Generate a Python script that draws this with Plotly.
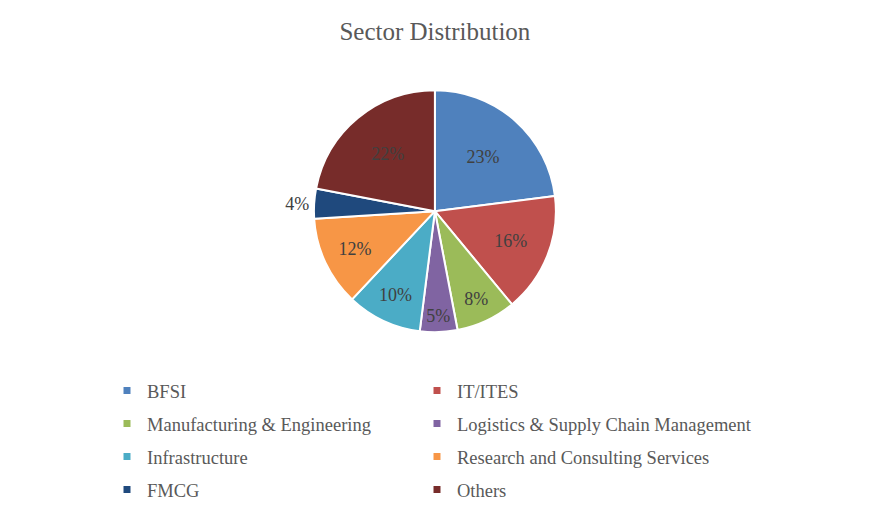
import plotly.graph_objects as go

# data
sectors = ['BFSI', 'IT/ITES', 'Manufacturing & Engineering', 'Logistics & Supply Chain Management',
           'Infrastructure', 'Research and Consulting Services', 'FMCG', 'Others']
shares = [23, 16, 8, 5, 10, 12, 4, 22]
colors = ['#4F81BD', '#C0504D', '#9BBB59', '#8064A2', '#4BACC6', '#F79646', '#1F497D', '#772C2A']
label_pos = ['inside', 'inside', 'inside', 'inside', 'inside', 'inside', 'outside', 'inside']

FONT = 'Liberation Serif'

fig = go.Figure()
fig.add_trace(go.Pie(
    labels=sectors,
    values=shares,
    sort=False,
    direction='clockwise',
    rotation=0,
    marker=dict(colors=colors, line=dict(color='white', width=2)),
    texttemplate='%{value}%',
    textposition=label_pos,
    insidetextorientation='horizontal',
    textfont=dict(family=FONT, size=18, color='#404040'),
    domain=dict(x=[0.239, 0.739], y=[0.373, 0.841]),
    showlegend=False,
    hoverinfo='label+percent',
))

# legend: 4 rows x 2 columns, one small legend per cell
row_y = [383, 416, 449, 482]
col_x = [99, 409]
layout_legends = {}
for i, (name, col) in enumerate(zip(sectors, colors)):
    key = 'legend' if i == 0 else f'legend{i + 1}'
    fig.add_trace(go.Scatter(
        x=[None], y=[None], mode='markers', name=name,
        marker=dict(symbol='square', size=7, color=col),
        legend=key,
    ))
    layout_legends[key] = dict(
        x=col_x[i % 2] / 873, xanchor='left',
        y=1 - row_y[i // 2] / 517, yanchor='middle',
        font=dict(family=FONT, size=18.5, color='#595959'),
        bgcolor='rgba(0,0,0,0)', itemclick=False, itemdoubleclick=False,
    )

fig.update_layout(
    title=dict(text='Sector Distribution', x=0.489, xanchor='center', y=1 - 23 / 517, yanchor='middle',
               font=dict(family=FONT, size=25, color='#595959')),
    width=873, height=517,
    margin=dict(l=0, r=0, t=0, b=0),
    paper_bgcolor='white', plot_bgcolor='white',
    xaxis=dict(visible=False), yaxis=dict(visible=False),
    **layout_legends,
)

fig.write_html('out.html')
